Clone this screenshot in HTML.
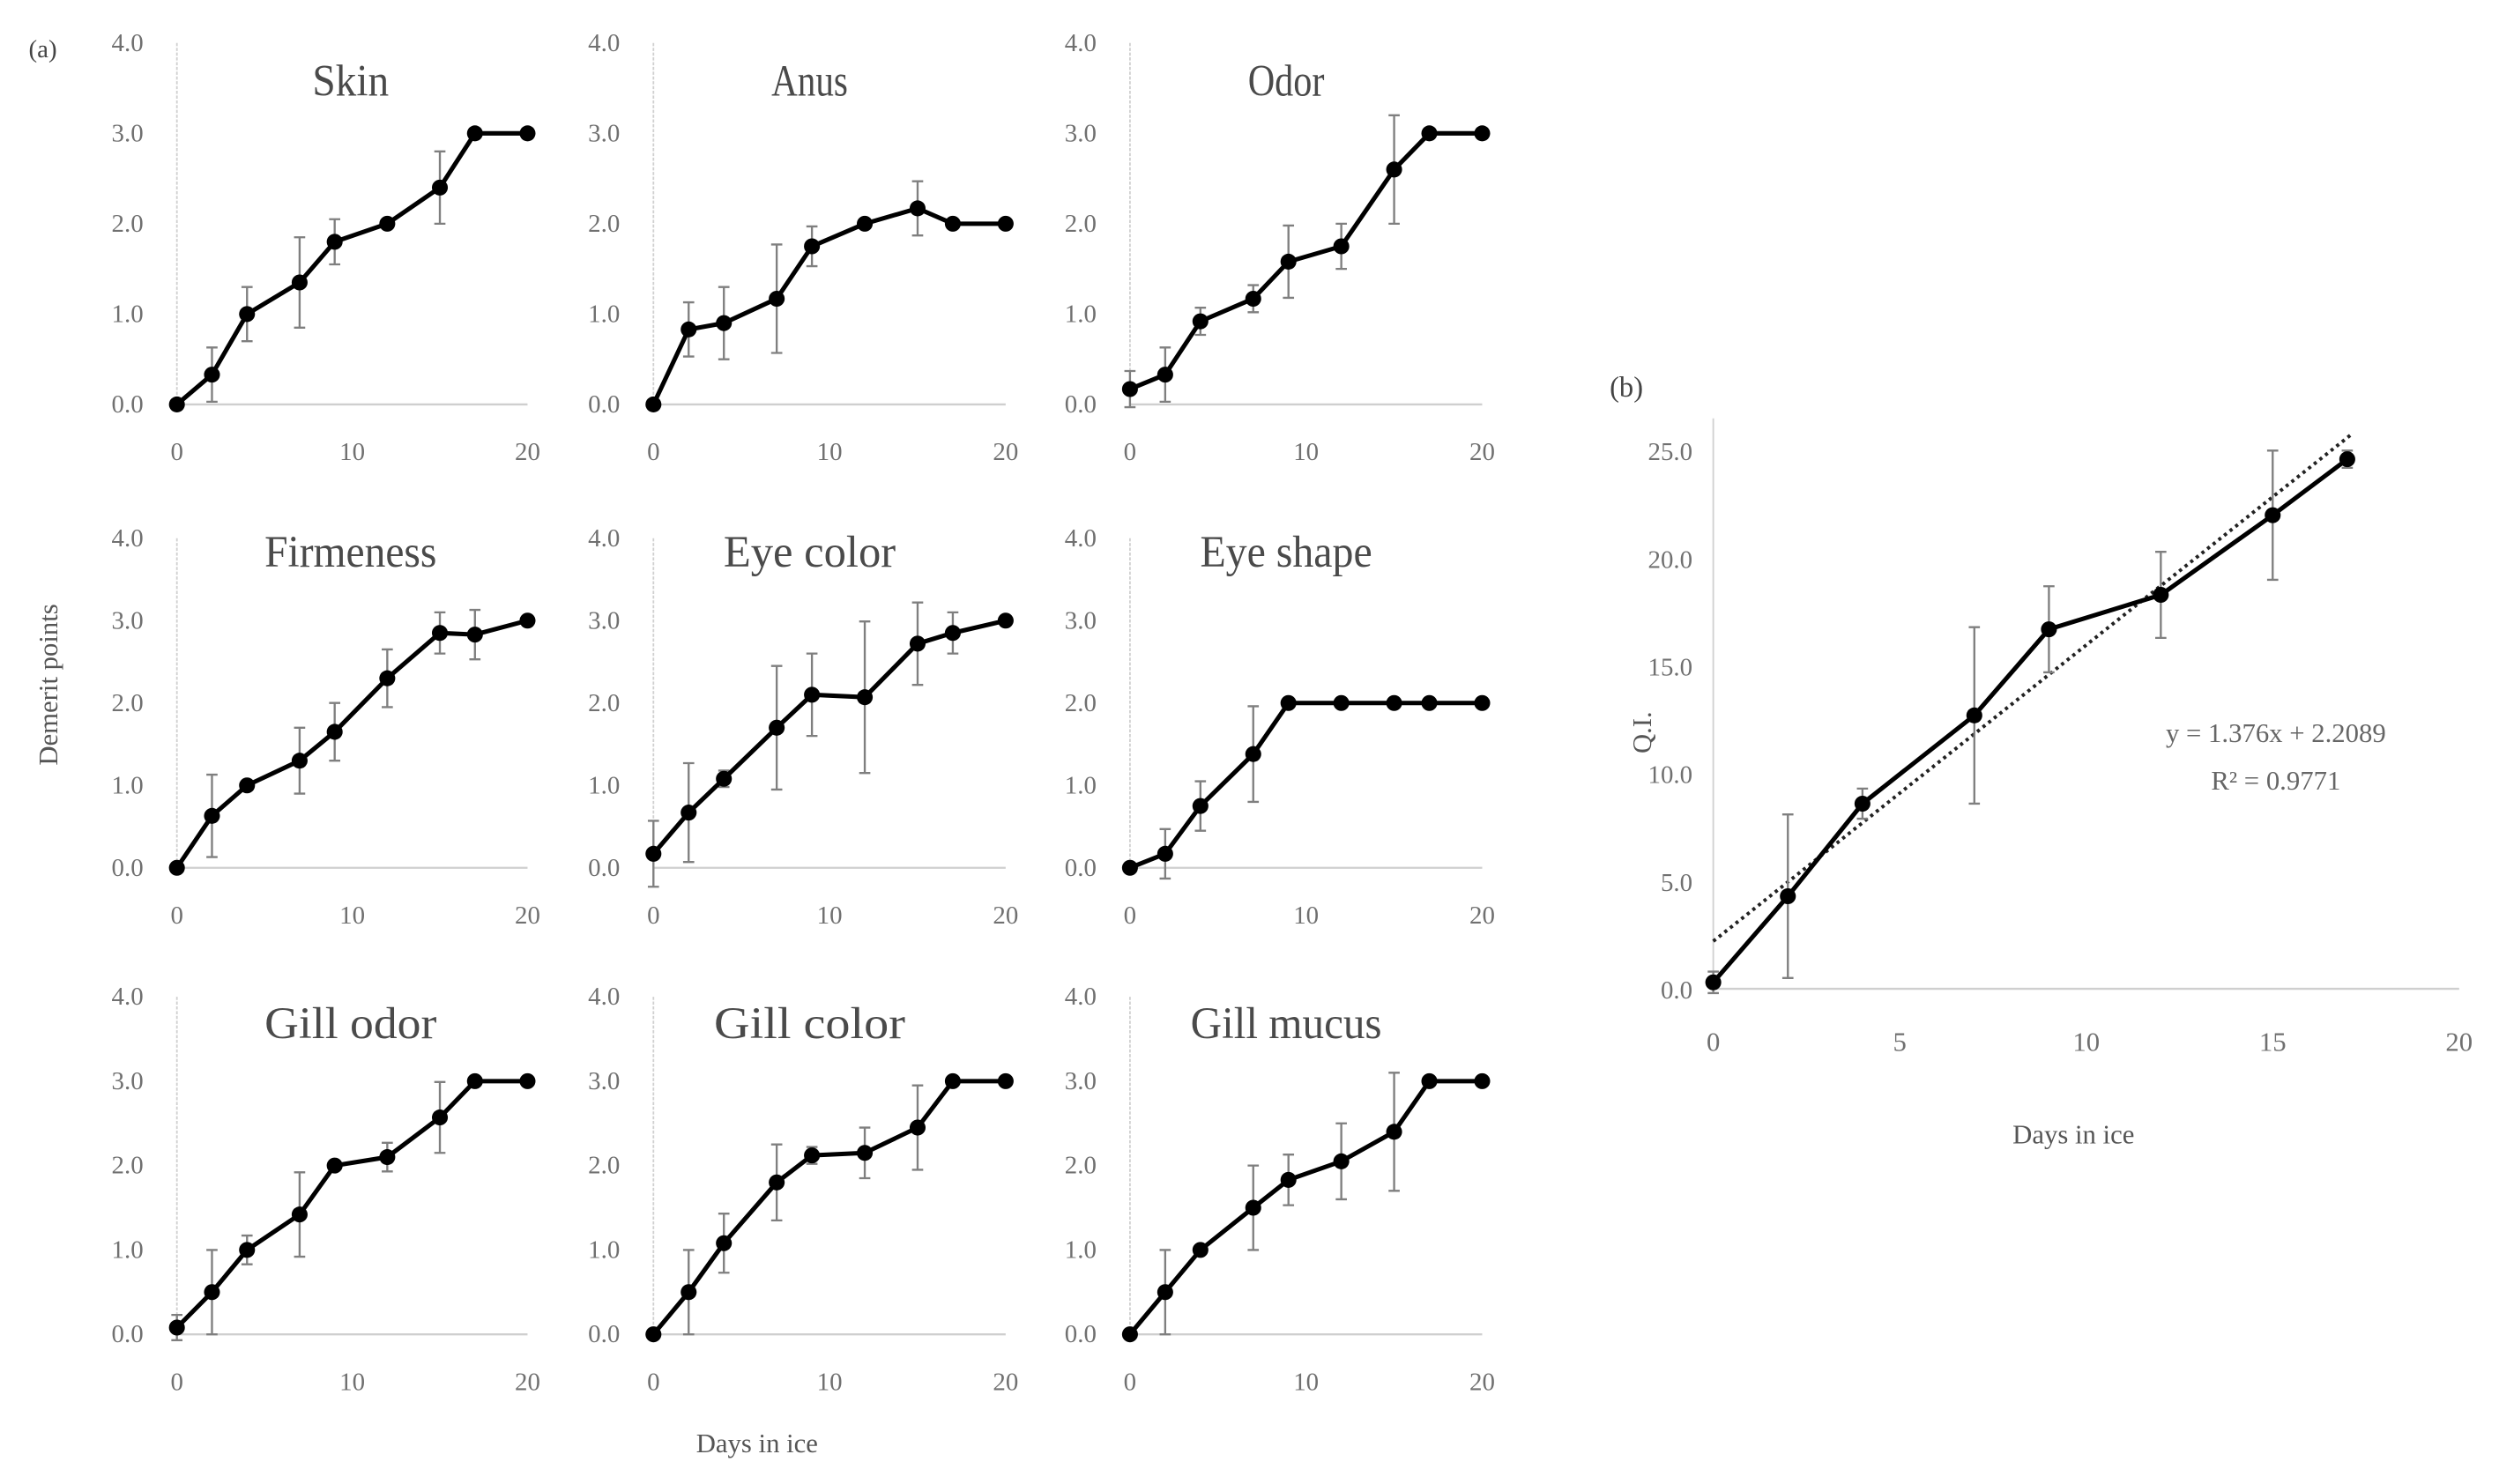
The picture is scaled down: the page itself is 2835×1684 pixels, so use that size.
<!DOCTYPE html>
<html><head><meta charset="utf-8"><style>
html,body{margin:0;padding:0;background:#fff}
svg{display:block}
text{font-family:"Liberation Serif",serif}
</style></head><body>
<svg id="fig" width="2835" height="1684" viewBox="0 0 1568 932" preserveAspectRatio="none" xmlns="http://www.w3.org/2000/svg"></svg>
<script>
const days = [0,2,4,7,9,12,15,17,20];
const titles = ["Skin","Anus","Odor","Firmeness","Eye color","Eye shape","Gill odor","Gill color","Gill mucus"];
const skinVals = [0,0.33,1.0,1.35,1.8,2.0,2.4,3,3];
const skinErr = [0,0.3,0.3,0.5,0.25,0,0.4,0,0];
const anusVals = [0,0.83,0.9,1.17,1.75,2.0,2.17,2,2];
const anusErr = [0,0.3,0.4,0.6,0.22,0,0.3,0,0];
const odorVals = [0.17,0.33,0.92,1.17,1.58,1.75,2.6,3,3];
const odorErr = [0.2,0.3,0.15,0.15,0.4,0.25,0.6,0,0];
const firmVals = [0,0.63,1.0,1.3,1.65,2.3,2.85,2.83,3];
const firmErr = [0,0.5,0,0.4,0.35,0.35,0.25,0.3,0];
const eyeColVals = [0.17,0.67,1.08,1.7,2.1,2.07,2.72,2.85,3];
const eyeColErr = [0.4,0.6,0.1,0.75,0.5,0.92,0.5,0.25,0];
const eyeShpVals = [0,0.17,0.75,1.38,2,2,2,2,2];
const eyeShpErr = [0,0.3,0.3,0.58,0,0,0,0,0];
const gillOdVals = [0.08,0.5,1.0,1.42,2.0,2.1,2.57,3,3];
const gillOdErr = [0.15,0.5,0.17,0.5,0,0.17,0.42,0,0];
const gillColVals = [0,0.5,1.08,1.8,2.12,2.15,2.45,3,3];
const gillColErr = [0,0.5,0.35,0.45,0.1,0.3,0.5,0,0];
const gillMucVals = [0,0.5,1.0,1.5,1.83,2.05,2.4,3,3];
const gillMucErr = [0,0.5,0,0.5,0.3,0.45,0.7,0,0];
const yTicks = ["0.0","1.0","2.0","3.0","4.0"];
const xTicks = [0,10,20];
const qiDays = [0,2,4,7,9,12,15,17];
const qiVals = [0.3,4.3,8.6,12.7,16.7,18.3,22,24.6];
const qiErr = [0.5,3.8,0.7,4.1,2.0,2.0,3.0,0.4];
const qiYTicks = ["0.0","5.0","10.0","15.0","20.0","25.0"];
const qiXTicks = [0,5,10,15,20];
const fitSlope = 1.376, fitIntercept = 2.2089;

const allVals=[skinVals,anusVals,odorVals,firmVals,eyeColVals,eyeShpVals,gillOdVals,gillColVals,gillMucVals];
const allErr=[skinErr,anusErr,odorErr,firmErr,eyeColErr,eyeShpErr,gillOdErr,gillColErr,gillMucErr];
const svg=document.getElementById('fig');
const NS="http://www.w3.org/2000/svg";
function el(tag,attrs,parent,txt){const e=document.createElementNS(NS,tag);for(const k in attrs)e.setAttribute(k,attrs[k]);if(txt!==undefined)e.textContent=txt;(parent||svg).appendChild(e);return e;}

const colX=[[111,331],[410,631],[709,930]];
const rowY=[[254,27],[545,338],[838,626]];
const titleX=[220,508,807],titleY=[60,356,652];

function drawPanel(g,xs,vals,errs,X,Y){
  for(let i=0;i<xs.length;i++){
    if(errs[i]>0){
      const x=X(xs[i]),y1=Y(vals[i]-errs[i]),y2=Y(vals[i]+errs[i]);
      const eb=el('path',{d:`M${x},${y1}V${y2}M${x-3.5},${y1}H${x+3.5}M${x-3.5},${y2}H${x+3.5}`,stroke:'#7f7f7f','stroke-width':1.3,fill:'none'},g);
      
      
    }
  }
  const line=el('polyline',{points:xs.map((d,i)=>X(d)+','+Y(vals[i])).join(' '),fill:'none',stroke:'#000','stroke-width':2.8},g);
  
  
  xs.forEach((d,i)=>{
    const c=el('circle',{cx:X(d),cy:Y(vals[i]),r:5,fill:'#000'},g);
    
    
  });
}

for(let p=0;p<9;p++){
  const r=Math.floor(p/3),c=p%3;
  const [x0,x1]=colX[c],[y0,y4]=rowY[r];
  const X=d=>x0+(x1-x0)*d/20, Y=v=>y0+(y4-y0)*v/4;
  const g=el('g',{});
  
  
  el('line',{x1:x0,y1:y4,x2:x0,y2:y0,stroke:'#d0d0d0','stroke-width':1,'stroke-dasharray':'2,1'},g);
  el('line',{x1:x0,y1:y0,x2:x1,y2:y0,stroke:'#cfcfcf','stroke-width':1.3},g);
  yTicks.forEach((t,i)=>{const tt=el('text',{x:x0-21,y:Y(+t)+5,'font-size':16,fill:'#707070','text-anchor':'end'},g,t);});
  xTicks.forEach(t=>{const tt=el('text',{x:X(t),y:y0+35,'font-size':16,fill:'#707070','text-anchor':'middle'},g,String(t));});
  const tl=el('text',{x:titleX[c],y:titleY[r],'font-size':28,fill:'#4a4a4a','text-anchor':'middle',textLength:titles[p].length*12,lengthAdjust:'spacingAndGlyphs'},g,titles[p]);
  
  
  drawPanel(g,days,allVals[p],allErr[p],X,Y);
}
let t;
t=el('text',{x:18,y:36,'font-size':16,fill:'#444'},svg,'(a)');
t=el('text',{x:0,y:0,'font-size':17,fill:'#555','text-anchor':'middle',transform:'translate(36,430) rotate(-90)'},svg,'Demerit points');
t=el('text',{x:475,y:912,'font-size':17,fill:'#555','text-anchor':'middle'},svg,'Days in ice');

// panel b
const bx0=1075,bx1=1543,by0=621,by25=283;
const BX=d=>bx0+(bx1-bx0)*d/20, BY=v=>by0+(by25-by0)*v/25;
const gb=el('g',{});


el('line',{x1:bx0,y1:BY(26.5),x2:bx0,y2:by0,stroke:'#d0d0d0','stroke-width':1},gb);
el('line',{x1:bx0,y1:by0,x2:bx1,y2:by0,stroke:'#cfcfcf','stroke-width':1.3},gb);
qiYTicks.forEach(tk=>{const tt=el('text',{x:bx0-13,y:BY(+tk)+6,'font-size':16,fill:'#707070','text-anchor':'end'},gb,tk);});
qiXTicks.forEach(tk=>{const tt=el('text',{x:BX(tk),y:by0+39,'font-size':17,fill:'#707070','text-anchor':'middle'},gb,String(tk));});
const fit=el('line',{x1:BX(0),y1:BY(fitIntercept),x2:BX(17.1),y2:BY(fitIntercept+fitSlope*17.1),stroke:'#222','stroke-width':2.2,'stroke-dasharray':'2,2.5'},gb);


drawPanel(gb,qiDays,qiVals,qiErr,BX,BY);
t=el('text',{x:1010,y:249,'font-size':18,fill:'#444'},svg,'(b)');
t=el('text',{x:0,y:0,'font-size':17,fill:'#555','text-anchor':'middle',transform:'translate(1036,460) rotate(-90)'},svg,'Q.I.');
t=el('text',{x:1301,y:718,'font-size':17,fill:'#555','text-anchor':'middle'},svg,'Days in ice');
t=el('text',{x:1428,y:466,'font-size':17,fill:'#666','text-anchor':'middle'},svg,'y = 1.376x + 2.2089');
t=el('text',{x:1428,y:496,'font-size':17,fill:'#666','text-anchor':'middle'},svg,'R² = 0.9771');
</script>
</body></html>
